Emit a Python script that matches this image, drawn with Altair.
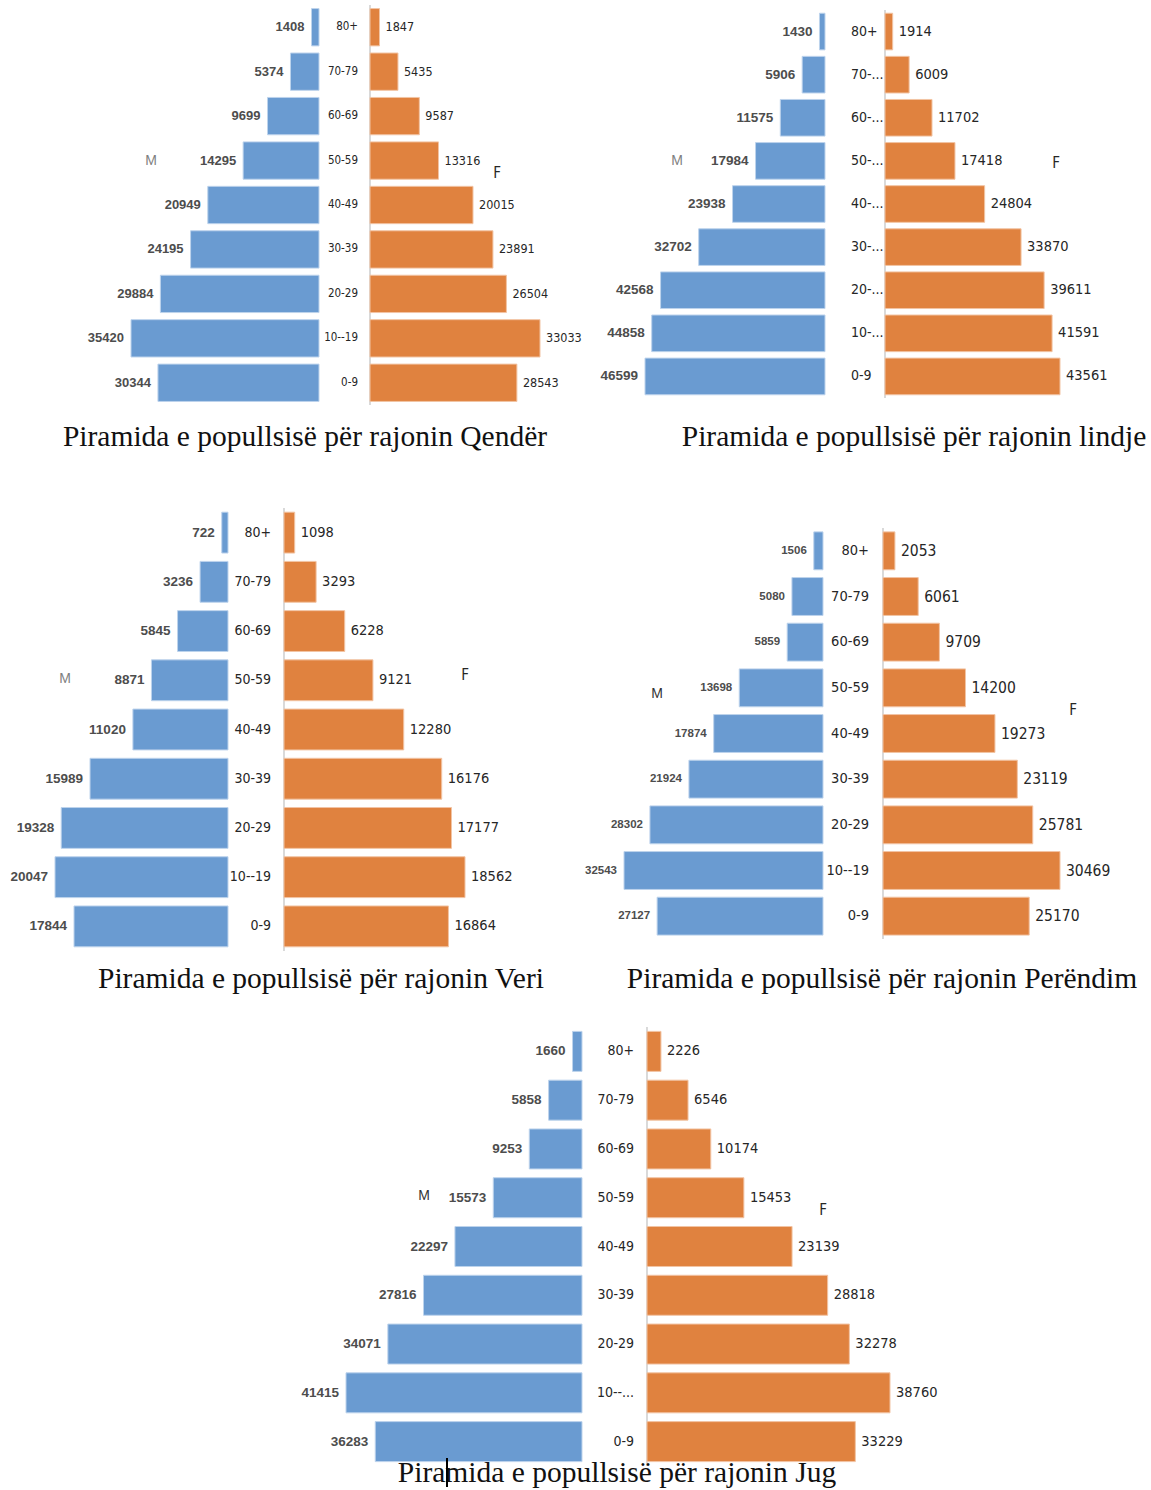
import altair as alt
import pandas as pd

# ---------------- data ----------------
ages_std = ["80+", "70-79", "60-69", "50-59", "40-49", "30-39", "20-29", "10--19", "0-9"]
ages_lindje = ["80+", "70-...", "60-...", "50-...", "40-...", "30-...", "20-...", "10-...", "0-9"]
ages_jug = ["80+", "70-79", "60-69", "50-59", "40-49", "30-39", "20-29", "10--...", "0-9"]

qender_m = [1408, 5374, 9699, 14295, 20949, 24195, 29884, 35420, 30344]
qender_f = [1847, 5435, 9587, 13316, 20015, 23891, 26504, 33033, 28543]
lindje_m = [1430, 5906, 11575, 17984, 23938, 32702, 42568, 44858, 46599]
lindje_f = [1914, 6009, 11702, 17418, 24804, 33870, 39611, 41591, 43561]
veri_m = [722, 3236, 5845, 8871, 11020, 15989, 19328, 20047, 17844]
veri_f = [1098, 3293, 6228, 9121, 12280, 16176, 17177, 18562, 16864]
perendim_m = [1506, 5080, 5859, 13698, 17874, 21924, 28302, 32543, 27127]
perendim_f = [2053, 6061, 9709, 14200, 19273, 23119, 25781, 30469, 25170]
jug_m = [1660, 5858, 9253, 15573, 22297, 27816, 34071, 41415, 36283]
jug_f = [2226, 6546, 10174, 15453, 23139, 28818, 32278, 38760, 33229]

titles = [
    "Piramida e popullsisë për rajonin Qendër",
    "Piramida e popullsisë për rajonin lindje",
    "Piramida e popullsisë për rajonin Veri",
    "Piramida e popullsisë për rajonin Perëndim",
    "Piramida e popullsisë për rajonin Jug",
]

BLUE = "#6A9BD1"
ORANGE = "#E0823F"
NARROW = "Liberation Sans Narrow, DejaVu Sans Condensed, Arial Narrow, Roboto Condensed, Liberation Sans, sans-serif"
SANS = "Liberation Sans, Arial, sans-serif"
SERIF = "Liberation Serif, Times New Roman, serif"

# ---------------- layout per panel ----------------
panels = [
    dict(ages=ages_std, m=qender_m, f=qender_f, title=titles[0],
         mr=(319, 131), fr=(370, 540), yr=(5, 405), pi=0.16,
         age_x=358, age_align="right", age_size=11.5, mv_size=13, fv_size=12.5,
         M=(151, 161), F=(497, 173), T=(305, 437), mcol="#7F7F7F"),
    dict(ages=ages_lindje, m=lindje_m, f=lindje_f, title=titles[1],
         mr=(825, 645), fr=(885, 1060), yr=(10, 398), pi=0.15,
         age_x=851, age_align="left", age_size=14, mv_size=13.5, fv_size=14.5,
         M=(677, 161), F=(1056, 163), T=(914, 437), mcol="#7F7F7F"),
    dict(ages=ages_std, m=veri_m, f=veri_f, title=titles[2],
         mr=(228, 55), fr=(284, 465), yr=(508, 951), pi=0.17,
         age_x=271, age_align="right", age_size=14, mv_size=13.5, fv_size=14.5,
         M=(65, 679), F=(465, 675), T=(321, 979), mcol="#7F7F7F"),
    dict(ages=ages_std, m=perendim_m, f=perendim_f, title=titles[3],
         mr=(823, 624), fr=(883, 1060), yr=(528, 939), pi=0.17,
         age_x=869, age_align="right", age_size=14.5, mv_size=11.5, fv_size=15.5,
         M=(657, 694), F=(1073, 710), T=(882, 979), mcol="#333333"),
    dict(ages=ages_jug, m=jug_m, f=jug_f, title=titles[4],
         mr=(582, 346), fr=(647, 890), yr=(1027, 1466), pi=0.18,
         age_x=634, age_align="right", age_size=14, mv_size=13.5, fv_size=14.5,
         M=(424, 1196), F=(823, 1210), T=(617, 1473), mcol="#333333"),
]


def panel_layers(p):
    df = pd.DataFrame({"age": p["ages"], "male": p["m"], "female": p["f"]})
    base = alt.Chart(df)
    yscale = alt.Scale(domain=p["ages"], range=list(p["yr"]),
                       paddingInner=p["pi"], paddingOuter=p["pi"] / 2)
    y = alt.Y("age:N", scale=yscale, axis=None, sort=None)
    mscale = alt.Scale(domain=[0, max(p["m"])], range=list(p["mr"]), nice=False, zero=True)
    fscale = alt.Scale(domain=[0, max(p["f"])], range=list(p["fr"]), nice=False, zero=True)

    male_bar = base.mark_bar(color=BLUE, stroke="#BDD3EC", strokeWidth=1).encode(
        x=alt.X("male:Q", scale=mscale, axis=None), y=y)
    female_bar = base.mark_bar(color=ORANGE, stroke="#F2C4A4", strokeWidth=1).encode(
        x=alt.X("female:Q", scale=fscale, axis=None), y=y)
    male_txt = base.mark_text(align="right", baseline="middle", dx=-7,
                              font=SANS, fontWeight="bold", fontSize=p["mv_size"],
                              color="#4D4D4D").encode(
        x=alt.X("male:Q", scale=mscale, axis=None), y=y, text="male:Q")
    female_txt = base.mark_text(align="left", baseline="middle", dx=6,
                                font=NARROW, fontSize=p["fv_size"],
                                color="#262626").encode(
        x=alt.X("female:Q", scale=fscale, axis=None), y=y, text="female:Q")
    age_txt = base.mark_text(align=p["age_align"], baseline="middle",
                             font=NARROW, fontSize=p["age_size"],
                             color="#262626").encode(
        x=alt.value(p["age_x"]), y=y, text="age:N")
    axis_line = base.mark_rule(color="#D9D9D9", strokeWidth=1).encode(
        x=alt.value(p["fr"][0]), y=alt.value(p["yr"][0]), y2=alt.value(p["yr"][1]))

    ann = pd.DataFrame({"t": [p["title"]]})
    title = alt.Chart(ann).mark_text(font=SERIF, fontSize=29.5, color="#111111",
                                     align="center", baseline="middle").encode(
        x=alt.value(p["T"][0]), y=alt.value(p["T"][1]), text="t:N")
    mdf = pd.DataFrame({"t": ["M"]})
    fdf = pd.DataFrame({"t": ["F"]})
    m_lab = alt.Chart(mdf).mark_text(font=SANS, fontSize=14, color=p["mcol"],
                                     align="center", baseline="middle").encode(
        x=alt.value(p["M"][0]), y=alt.value(p["M"][1]), text="t:N")
    f_lab = alt.Chart(fdf).mark_text(font=NARROW, fontSize=15, color="#262626",
                                     align="center", baseline="middle").encode(
        x=alt.value(p["F"][0]), y=alt.value(p["F"][1]), text="t:N")
    return [axis_line, male_bar, female_bar, male_txt, female_txt, age_txt,
            title, m_lab, f_lab]


layers = []
for p in panels:
    layers.extend(panel_layers(p))

# text-cursor artifact visible in the source image
cursor = alt.Chart(pd.DataFrame({"k": [0]})).mark_rule(color="#000000", strokeWidth=2).encode(
    x=alt.value(447), y=alt.value(1458), y2=alt.value(1487))
layers.append(cursor)

chart = alt.layer(*layers).resolve_scale(x="independent", y="independent").properties(
    width=1151, height=1490, padding=0, autosize=alt.AutoSizeParams(type="none"),
    background="white"
).configure_view(stroke=None)

chart.save("out.html", embed_options={"renderer": "svg", "actions": False})
